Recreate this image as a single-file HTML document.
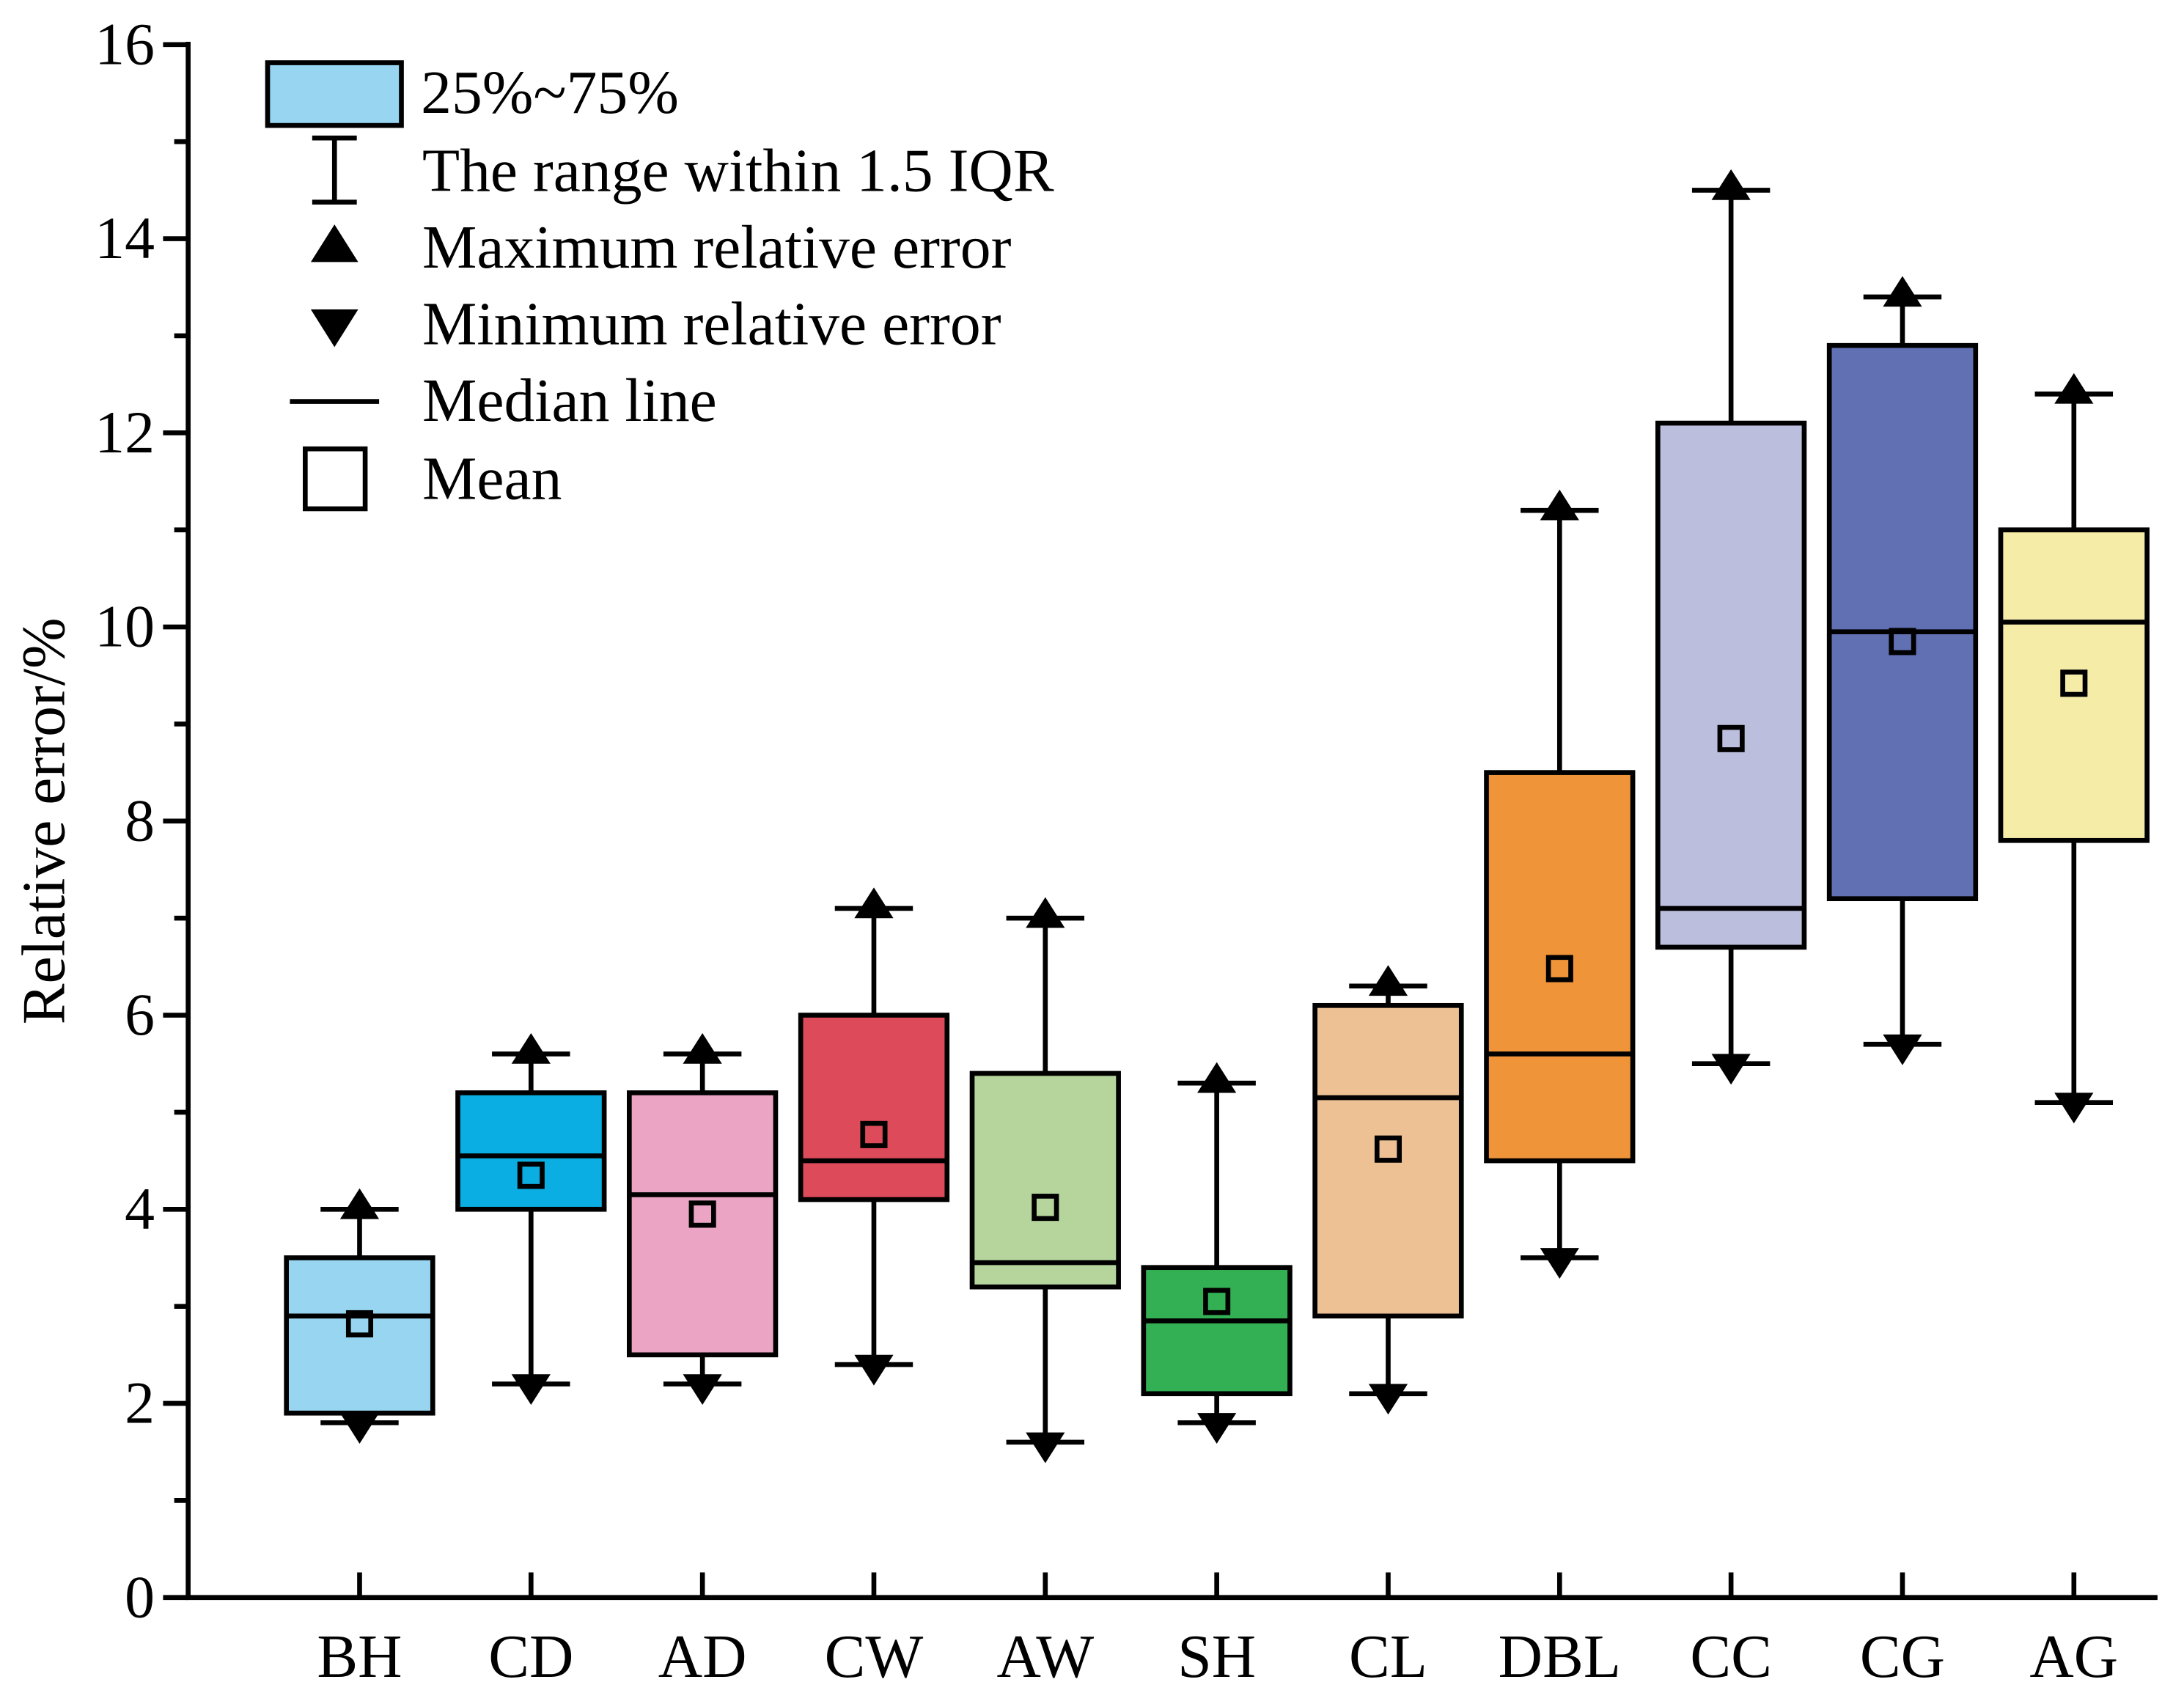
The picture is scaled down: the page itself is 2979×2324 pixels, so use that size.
<!DOCTYPE html>
<html><head><meta charset="utf-8"><style>html,body{margin:0;padding:0;background:#fff}svg{display:block}</style></head>
<body>
<svg id="chart" width="2979" height="2324" viewBox="0 0 1567 1222.4" preserveAspectRatio="none" xmlns="http://www.w3.org/2000/svg" font-family="'Liberation Serif', serif">
<g id="axes"></g>
<g id="boxes"></g>
<g id="legend">
  <rect x="192" y="45" width="96" height="45" fill="#97d5f0" stroke="#000" stroke-width="3.5"/>
  <text x="302" y="81" font-size="44">25%~75%</text>
  <line x1="240" y1="99" x2="240" y2="145" stroke="#000" stroke-width="3.5"/>
  <line x1="224" y1="99" x2="256" y2="99" stroke="#000" stroke-width="3.5"/>
  <line x1="224" y1="145" x2="256" y2="145" stroke="#000" stroke-width="3.5"/>
  <text x="303" y="137" font-size="44">The range within 1.5 IQR</text>
  <polygon points="240,161 223,188 257,188" fill="#000"/>
  <text x="303" y="192" font-size="44">Maximum relative error</text>
  <polygon points="223,222 257,222 240,249" fill="#000"/>
  <text x="303" y="247" font-size="44">Minimum relative error</text>
  <line x1="208" y1="288" x2="272" y2="288" stroke="#000" stroke-width="3.5"/>
  <text x="303" y="302" font-size="44">Median line</text>
  <rect x="219" y="322" width="43" height="43" fill="none" stroke="#000" stroke-width="3.5"/>
  <text x="303" y="358" font-size="44">Mean</text>
</g>
</svg>
<script>
const categories=["BH","CD","AD","CW","AW","SH","CL","DBL","CC","CG","AG"];
const q1=[1.9,4.0,2.5,4.1,3.2,2.1,2.9,4.5,6.7,7.2,7.8];
const q3=[3.5,5.2,5.2,6.0,5.4,3.4,6.1,8.5,12.1,12.9,11.0];
const medians=[2.9,4.55,4.15,4.5,3.45,2.85,5.15,5.6,7.1,9.95,10.05];
const means=[2.82,4.35,3.95,4.77,4.02,3.05,4.62,6.48,8.85,9.85,9.42];
const whiskerLow=[1.8,2.2,2.2,2.4,1.6,1.8,2.1,3.5,5.5,5.7,5.1];
const whiskerHigh=[4.0,5.6,5.6,7.1,7.0,5.3,6.3,11.2,14.5,13.4,12.4];
const colors=["#97d5f0","#0aaee2","#eba4c4","#dd4a5a","#b5d59c","#33b054","#eec194","#f0943a","#bcbedd","#6070b3","#f5eca8"];
const yTicks=[0,2,4,6,8,10,12,14,16];

const NS="http://www.w3.org/2000/svg";
const X0=135,X1=1548,Y0=1146,Ytop=32;
const SW=3.5;
const y=v=>Y0-(v/16)*(Y0-Ytop);
const x=i=>258+i*123;
function mk(tag,attrs,parent){const e=document.createElementNS(NS,tag);for(const k in attrs)e.setAttribute(k,attrs[k]);parent.appendChild(e);return e;}
const axes=document.getElementById('axes'),boxes=document.getElementById('boxes');

let a=mk('line',{x1:X0,y1:Ytop-2,x2:X0,y2:Y0+1.5,stroke:'#000','stroke-width':SW},axes);


a=mk('line',{x1:X0-1.5,y1:Y0,x2:X1,y2:Y0,stroke:'#000','stroke-width':SW},axes);


for(let v=0;v<=16;v++){
  const major=v%2===0;
  mk('line',{x1:X0-(major?18:10),y1:y(v),x2:X0,y2:y(v),stroke:'#000','stroke-width':SW},axes);
}
yTicks.forEach(v=>{
  const t=mk('text',{x:X0-24,y:y(v)+14,'font-size':43,'text-anchor':'end'},axes);
  t.textContent=v;
  
  
});
const yl=mk('text',{x:0,y:0,'font-size':44,'text-anchor':'middle',transform:`translate(46,${y(8.0)}) rotate(-90)`},axes);
yl.textContent='Relative error/%';



const W=105,cap=28;
categories.forEach((c,i)=>{
  const cx=x(i);
  mk('line',{x1:cx,y1:Y0,x2:cx,y2:Y0-18,stroke:'#000','stroke-width':SW},axes);
  const t=mk('text',{x:cx,y:1203,'font-size':44,'text-anchor':'middle'},axes);
  t.textContent=c;
  
  
  const g=mk('g',{},boxes);
  
  
  mk('line',{x1:cx,y1:y(whiskerHigh[i]),x2:cx,y2:y(whiskerLow[i]),stroke:'#000','stroke-width':SW},g);
  mk('line',{x1:cx-cap,y1:y(whiskerHigh[i]),x2:cx+cap,y2:y(whiskerHigh[i]),stroke:'#000','stroke-width':SW},g);
  mk('line',{x1:cx-cap,y1:y(whiskerLow[i]),x2:cx+cap,y2:y(whiskerLow[i]),stroke:'#000','stroke-width':SW},g);
  mk('rect',{x:cx-W/2,y:y(q3[i]),width:W,height:y(q1[i])-y(q3[i]),fill:colors[i],stroke:'#000','stroke-width':SW},g);
  mk('line',{x1:cx-W/2,y1:y(medians[i]),x2:cx+W/2,y2:y(medians[i]),stroke:'#000','stroke-width':SW},g);
  const ym=y(means[i]);
  mk('rect',{x:cx-8,y:ym-8,width:16,height:16,fill:'none',stroke:'#000','stroke-width':SW},g);
  const yh=y(whiskerHigh[i]);
  mk('polygon',{points:`${cx},${yh-15} ${cx-14},${yh+7} ${cx+14},${yh+7}`,fill:'#000'},g);
  const ylo=y(whiskerLow[i]);
  mk('polygon',{points:`${cx-14},${ylo-7} ${cx+14},${ylo-7} ${cx},${ylo+15}`,fill:'#000'},g);
});
</script>
</body></html>
